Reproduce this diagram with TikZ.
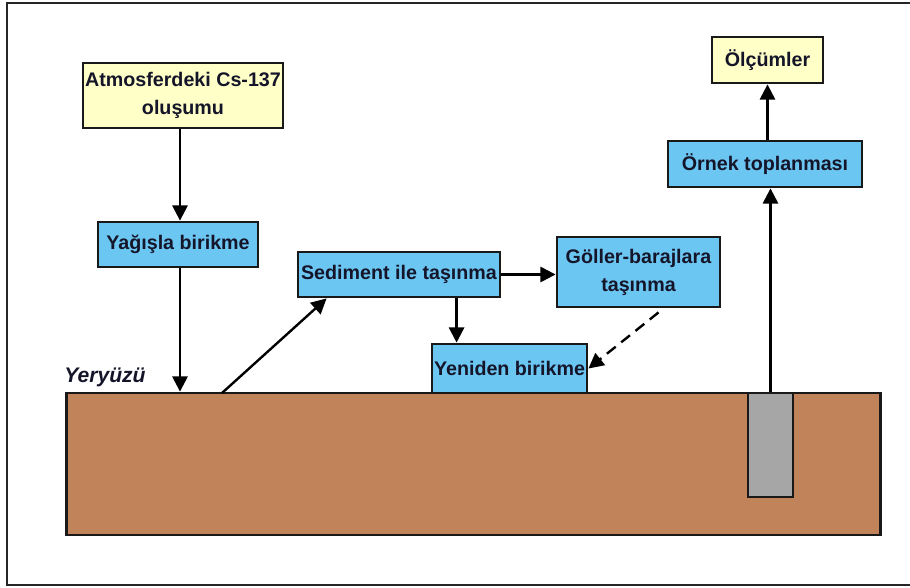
\documentclass[tikz,border=0pt]{standalone}
\usepackage{fontspec}
\setmainfont{Liberation Sans}
\usetikzlibrary{arrows.meta}
\definecolor{kutusari}{HTML}{FFFFC8}
\definecolor{kutumavi}{HTML}{6CC6F2}
\definecolor{toprak}{HTML}{C0835A}
\definecolor{karot}{HTML}{A6A6A6}
\definecolor{yazi}{HTML}{15152A}
\begin{document}
\begin{tikzpicture}[x=0.025cm, y=-0.025cm,
	kutu/.style={draw=black!90, line width=2pt, align=center, text=yazi,
		font=\fontsize{14}{20}\selectfont\bfseries, inner sep=0pt},
	sari/.style={kutu, fill=kutusari},
	mavi/.style={kutu, fill=kutumavi},
	ok/.style={line width=1.7pt, -{Triangle[length=0.38cm, width=0.38cm]}}]
	\useasboundingbox (0,0) rectangle (910,587);
	\draw[line width=2pt, draw=black!85] (7,3) rectangle (914,585);
	\node[draw=black!90, line width=2pt, fill=toprak, minimum width=20.325cm, minimum height=3.55cm, inner sep=0pt] (zemin) at (473.5,464) {};
	\node[draw=black!90, line width=2pt, fill=karot, minimum width=1.125cm, minimum height=2.6cm, inner sep=0pt] (karot) at (770.5,445) {};
	\node[text=yazi, font=\fontsize{15}{17}\selectfont\bfseries\itshape] (yer) at (105,377) {Yeryüzü};
	\node[sari, minimum width=5cm, minimum height=1.625cm] (atm) at (183,95.5) {Atmosferdeki Cs-137\\oluşumu};
	\node[mavi, minimum width=4cm, minimum height=1.125cm] (yag) at (178,244.5) {Yağışla birikme};
	\node[mavi, minimum width=5.05cm, minimum height=1.125cm] (sed) at (399,274.5) {Sediment ile taşınma};
	\node[mavi, minimum width=4.075cm, minimum height=1.75cm] (gol) at (638.5,272) {Göller-barajlara\\taşınma};
	\node[mavi, minimum width=3.875cm, minimum height=1.225cm] (yen) at (509.5,368.5) {Yeniden birikme};
	\node[mavi, minimum width=4.85cm, minimum height=1.15cm] (ork) at (765,164) {Örnek toplanması};
	\node[sari, minimum width=2.775cm, minimum height=1.15cm] (olc) at (767.5,60) {Ölçümler};
	\coordinate (yuk) at (222,393);
	\coordinate (yin) at ([xshift=0.65cm]yen.north west);
	\draw[ok] (atm.south -| yag.north) ++(0.05cm,0) -- ([xshift=0.05cm]yag.north);
	\draw[ok] ([xshift=0.05cm]yag.south) -- ([xshift=0.05cm]yag.south |- zemin.north);
	\draw[ok] (yuk) -- ([xshift=0.75cm]sed.south west);
	\draw[ok] (sed.east) -- (sed.east -| gol.west);
	\draw[ok] (yin |- sed.south) -- (yin);
	\draw[ok, dash pattern=on 8pt off 5pt] ([xshift=0.5cm, yshift=-0.1cm]gol.south) -- (yen.east);
	\draw[ok] (karot.north) -- (karot.north |- ork.south);
	\draw[ok] (olc.south |- ork.north) -- (olc.south);
\end{tikzpicture}
\end{document}
